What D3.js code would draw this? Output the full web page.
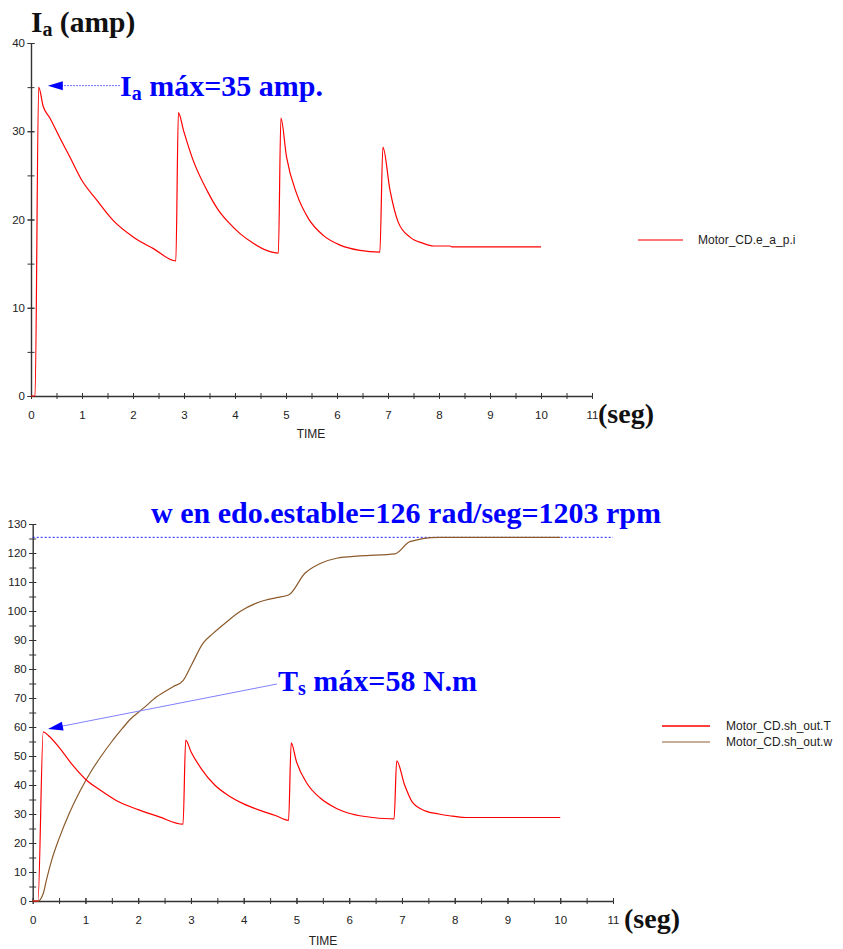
<!DOCTYPE html>
<html><head><meta charset="utf-8">
<script src="https://cdn.jsdelivr.net/npm/d3@7"></script>
<style>
body{margin:0;background:#fff;}
svg{display:block;}
</style></head>
<body>
<svg id="c" width="843" height="949"></svg>
<script>
// ---------- data ----------
const iaTime = [0, 0.08, 0.15, 0.24, 0.37, 0.57, 0.76, 0.99, 1.29, 1.61, 2.01, 2.40, 2.84, 2.89, 2.99, 3.18, 3.45, 3.67, 3.87, 4.10, 4.36, 4.62, 4.85, 4.90, 5.01, 5.21, 5.44, 5.73, 6.06, 6.45, 6.84, 6.90, 7.04, 7.20, 7.43, 7.69, 7.89, 8.22, 8.25, 10.0];
const iaValues = [0, 0, 35, 32.8, 31.5, 29.2, 27.1, 24.5, 22.2, 19.9, 18.0, 16.7, 15.3, 32.1, 30.1, 26.7, 23.3, 21.1, 19.7, 18.4, 17.3, 16.5, 16.2, 31.5, 27.1, 22.9, 20.1, 18.2, 17.1, 16.5, 16.3, 28.2, 23.3, 19.7, 18.0, 17.3, 17.0, 17.0, 16.9, 16.9];

const tTime = [0, 0.1, 0.2, 0.3, 0.5, 0.75, 1.0, 1.3, 1.6, 2.0, 2.4, 2.85, 2.9, 3.0, 3.2, 3.45, 3.7, 4.0, 4.35, 4.6, 4.85, 4.9, 5.0, 5.2, 5.45, 5.75, 6.05, 6.45, 6.85, 6.9, 7.05, 7.2, 7.45, 7.7, 7.9, 8.2, 10.0];
const tValues = [0, 0, 58.3, 57, 53, 47, 42, 38, 34.5, 31.5, 29, 26.5, 55.5, 51.5, 45.5, 40, 36.5, 33.5, 31, 29.5, 27.8, 54.5, 48, 40.5, 35.5, 32, 30, 28.8, 28.3, 48.3, 40, 34, 31, 30, 29.4, 28.8, 28.8];

const wTime = [0, 0.1, 0.2, 0.26, 0.36, 0.5, 0.7, 0.9, 1.1, 1.3, 1.5, 1.7, 1.84, 2.1, 2.35, 2.66, 2.85, 3.01, 3.23, 3.42, 3.68, 3.93, 4.31, 4.62, 4.85, 5.16, 5.45, 5.76, 6.2, 6.87, 7.15, 7.69, 10.0];
const wValues = [0, 0, 2.6, 7.2, 14.1, 21.5, 30.5, 38, 44.5, 50, 55, 59.5, 62.5, 66.5, 70.4, 73.9, 76, 81.4, 88.9, 92.3, 96.3, 99.8, 103.2, 104.6, 105.5, 113, 116.4, 118.2, 119, 119.7, 123.9, 125.4, 125.4];

const xTicks = [0,1,2,3,4,5,6,7,8,9,10,11];
const yTicksTop = [0,10,20,30,40];
const yTicksBottom = [0,10,20,30,40,50,60,70,80,90,100,110,120,130];
const wSteady = 125.4;

const legendTop = ["Motor_CD.e_a_p.i"];
const legendBottom = ["Motor_CD.sh_out.T", "Motor_CD.sh_out.w"];

// ---------- drawing ----------
const svg = d3.select("#c");
const axisColor = "#333";
const red = "#ff0000", brown = "#8b5a2b", blue = "#0000ff";
const serif = "'Liberation Serif','Times New Roman',serif";
const sans = "'Liberation Sans',Arial,sans-serif";

function drawAxes(g, x, y, yMajor, yMinorStep, yMax) {
  const xMinor = d3.range(0, 11.01, 0.5);
  const yMinor = d3.range(0, yMax + 0.01, yMinorStep);
  const xm = g.append("g").attr("transform", `translate(0,${y(0)})`)
    .call(d3.axisBottom(x).tickValues(xMinor).tickSize(3).tickSizeOuter(0).tickFormat(""));
  xm.selectAll(".tick line").attr("y1", -3).attr("y2", 3).attr("stroke", axisColor);
  xm.select(".domain").attr("stroke", axisColor).attr("stroke-width", 1.4);
  const xa = g.append("g").attr("transform", `translate(0,${y(0)})`)
    .call(d3.axisBottom(x).tickValues(xTicks).tickSize(3).tickSizeOuter(0).tickPadding(12).tickFormat(d3.format("d")));
  xa.select(".domain").remove();
  xa.selectAll(".tick line").attr("y1", -3).attr("y2", 3).attr("stroke", axisColor);

  const ym = g.append("g").attr("transform", `translate(${x(0)},0)`)
    .call(d3.axisLeft(y).tickValues(yMinor).tickSize(3.5).tickSizeOuter(0).tickFormat(""));
  ym.selectAll(".tick line").attr("x1", -3.5).attr("x2", 3.5).attr("stroke", axisColor);
  ym.select(".domain").attr("stroke", axisColor).attr("stroke-width", 1.4);
  const ya = g.append("g").attr("transform", `translate(${x(0)},0)`)
    .call(d3.axisLeft(y).tickValues(yMajor).tickSize(3.5).tickSizeOuter(0).tickPadding(2.5).tickFormat(d3.format("d")));
  ya.select(".domain").remove();
  ya.selectAll(".tick line").attr("x1", -3.5).attr("x2", 3.5).attr("stroke", axisColor);
  g.selectAll(".tick text").style("font-family", sans).style("font-size", "11.5px").attr("fill", "#222");
}

function series(ts, vs) { return ts.map((t, i) => [t, vs[i]]); }

// ----- top chart -----
const x1 = d3.scaleLinear().domain([0, 11]).range([31, 592]);
const y1 = d3.scaleLinear().domain([0, 40]).range([396, 43]);
const g1 = svg.append("g");
drawAxes(g1, x1, y1, yTicksTop, 5, 40);
g1.append("path").datum(series(iaTime, iaValues))
  .attr("d", d3.line().curve(d3.curveMonotoneX).x(d => x1(d[0])).y(d => y1(d[1])))
  .attr("fill", "none").attr("stroke", red).attr("stroke-width", 1.2);

g1.append("text").attr("x", 311).attr("y", 438).attr("text-anchor", "middle")
  .style("font-family", sans).style("font-size", "12px").attr("fill", "#222").text("TIME");

const t1 = g1.append("text").attr("x", 31).attr("y", 32).style("font-family", serif)
  .style("font-weight", "bold").style("font-size", "29.5px").attr("fill", "#111");
t1.append("tspan").text("I");
t1.append("tspan").attr("dy", 4).style("font-size", "20px").text("a");
t1.append("tspan").attr("dy", -4).text(" (amp)");

g1.append("text").attr("x", 598).attr("y", 423).style("font-family", serif)
  .style("font-weight", "bold").style("font-size", "28px").attr("fill", "#111").text("(seg)");

const ay = y1(35) - 1.5;
g1.append("line").attr("x1", 120).attr("x2", 60).attr("y1", ay).attr("y2", ay)
  .attr("stroke", "#7070ff").attr("stroke-width", 1).attr("stroke-dasharray", "2,1");
g1.append("path").attr("d", `M${x1(0.33)},${ay} l15,-4.5 l0,9 Z`).attr("fill", blue);
const a1 = g1.append("text").attr("x", 120).attr("y", 96).style("font-family", serif)
  .style("font-weight", "bold").style("font-size", "30px").attr("fill", blue);
a1.append("tspan").text("I");
a1.append("tspan").attr("dy", 4).style("font-size", "20px").text("a");
a1.append("tspan").attr("dy", -4).text(" máx=35 amp.");

g1.append("line").attr("x1", 638).attr("x2", 683).attr("y1", 240).attr("y2", 240)
  .attr("stroke", red).attr("stroke-width", 1.3).attr("opacity", 0.7);
g1.append("text").attr("x", 698).attr("y", 244).style("font-family", sans).style("font-size", "12px")
  .attr("fill", "#222").text(legendTop[0]);

// ----- bottom chart -----
const x2 = d3.scaleLinear().domain([0, 11]).range([32.7, 613]);
const y2 = d3.scaleLinear().domain([0, 130]).range([901, 524]);
const g2 = svg.append("g");
drawAxes(g2, x2, y2, yTicksBottom, 5, 130);

g2.append("line").attr("x1", x2(0)).attr("x2", x2(11)).attr("y1", y2(wSteady)).attr("y2", y2(wSteady))
  .attr("stroke", "#2020ff").attr("stroke-width", 1).attr("stroke-dasharray", "2,2");

g2.append("path").datum(series(wTime, wValues))
  .attr("d", d3.line().curve(d3.curveMonotoneX).x(d => x2(d[0])).y(d => y2(d[1])))
  .attr("fill", "none").attr("stroke", brown).attr("stroke-width", 1.2);
g2.append("path").datum(series(tTime, tValues))
  .attr("d", d3.line().curve(d3.curveMonotoneX).x(d => x2(d[0])).y(d => y2(d[1])))
  .attr("fill", "none").attr("stroke", red).attr("stroke-width", 1.2);

g2.append("text").attr("x", 323).attr("y", 945).attr("text-anchor", "middle")
  .style("font-family", sans).style("font-size", "12px").attr("fill", "#222").text("TIME");
g2.append("text").attr("x", 624).attr("y", 928).style("font-family", serif)
  .style("font-weight", "bold").style("font-size", "28px").attr("fill", "#111").text("(seg)");

g2.append("text").attr("x", 151).attr("y", 523).style("font-family", serif)
  .style("font-weight", "bold").style("font-size", "30px").attr("fill", blue)
  .text("w en edo.estable=126 rad/seg=1203 rpm");

const tipX = x2(0.29), tipY = y2(58.3) - 3;
const sx = 277, sy = 684;
const ang = Math.atan2(sy - tipY, sx - tipX);
g2.append("line").attr("x1", sx).attr("y1", sy).attr("x2", tipX + 14 * Math.cos(ang)).attr("y2", tipY + 14 * Math.sin(ang))
  .attr("stroke", "#8080ff").attr("stroke-width", 1);
g2.append("path").attr("d", "M0,0 L15,-4.5 L15,4.5 Z")
  .attr("transform", `translate(${tipX},${tipY}) rotate(${ang * 180 / Math.PI})`).attr("fill", blue);
const a2 = g2.append("text").attr("x", 278).attr("y", 691).style("font-family", serif)
  .style("font-weight", "bold").style("font-size", "30px").attr("fill", blue);
a2.append("tspan").text("T");
a2.append("tspan").attr("dy", 4).style("font-size", "20px").text("s");
a2.append("tspan").attr("dy", -4).text(" máx=58 N.m");

[[red, 726], [brown, 742]].forEach(([c, yy], i) => {
  g2.append("line").attr("x1", 662).attr("x2", 710).attr("y1", yy).attr("y2", yy)
    .attr("stroke", c).attr("stroke-width", 1.3).attr("opacity", i ? 0.65 : 1);
  g2.append("text").attr("x", 726).attr("y", yy + 4).style("font-family", sans).style("font-size", "12px")
    .attr("fill", "#222").text(legendBottom[i]);
});
</script>
</body></html>
